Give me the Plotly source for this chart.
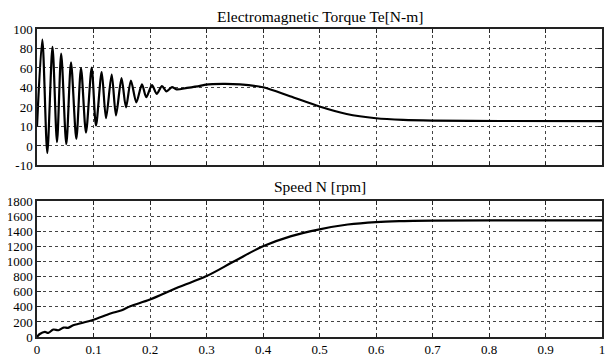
import plotly.graph_objects as go

# Electromagnetic torque (values in the plot's linear axis units; tick labels as printed)
torque_t = [0, 0.0094, 0.0182, 0.0274, 0.0354, 0.0428, 0.0519, 0.0602, 0.0696, 0.0779,
            0.0867, 0.0968, 0.1044, 0.1145, 0.1221, 0.1322, 0.1398, 0.1496, 0.1575, 0.1662,
            0.1758, 0.1858, 0.1934, 0.2035, 0.2119, 0.2212, 0.2292, 0.2389, 0.2469, 0.2655,
            0.2885, 0.2991, 0.3292, 0.3593, 0.4, 0.4478, 0.5, 0.548, 0.6, 0.648,
            0.7, 0.82, 1.0]
torque_v = [0, 89.1, -27.2, 81.6, -16.1, 74.8, -18.2, 65.8, -12.7, 59.9,
            -6.3, 60.3, 1.0, 55.9, 8.4, 53.3, 11.3, 49.5, 19.6, 47.1,
            24.8, 43.3, 30.0, 42.4, 33.4, 41.4, 36.0, 40.4, 38.1, 39.5,
            41.6, 43.0, 43.7, 43.2, 40.2, 31.0, 20.5, 12.8, 8.4, 6.7,
            6.0, 5.6, 5.5]
torque_tickvals = [-40, -20, 0, 20, 40, 60, 80, 100]
torque_ticktext = ["-10", "0", "10", "20", "40", "60", "80", "100"]

# Speed
speed_t = [0, 0.005, 0.014, 0.020, 0.029, 0.038, 0.047, 0.055, 0.064, 0.076, 0.1, 0.13,
           0.15, 0.165, 0.2, 0.25, 0.3, 0.35, 0.4, 0.45, 0.5, 0.55, 0.6, 0.65,
           0.7, 0.8, 1.0]
speed_v = [0, 40, 67, 55, 99, 90, 125, 122, 156, 179, 230, 312, 356, 409, 498, 660, 809,
           1010, 1205, 1340, 1430, 1494, 1527, 1540, 1546, 1548, 1548]

x_ticks = [0, 0.1, 0.2, 0.3, 0.4, 0.5, 0.6, 0.7, 0.8, 0.9, 1]
x_ticktext = ["0", "0.1", "0.2", "0.3", "0.4", "0.5", "0.6", "0.7", "0.8", "0.9", "1"]

FONT = "Liberation Serif, Times New Roman, serif"
fig = go.Figure()
fig.add_trace(go.Scatter(x=torque_t, y=torque_v, mode="lines", xaxis="x", yaxis="y",
                         line=dict(color="black", width=2.2, shape="spline", smoothing=0.8),
                         showlegend=False))
fig.add_trace(go.Scatter(x=speed_t, y=speed_v, mode="lines", xaxis="x2", yaxis="y2",
                         line=dict(color="black", width=2.2, shape="spline", smoothing=1.0),
                         showlegend=False))

axis_common = dict(showline=True, linecolor="#222", linewidth=1.5, mirror="ticks",
                   ticks="inside", ticklen=4, tickcolor="#222", automargin=False,
                   showgrid=True, gridcolor="#444", gridwidth=1, griddash="dot",
                   zeroline=False, tickfont=dict(family=FONT, size=13, color="black"))

top_dom = [0.557, 1.0]
bot_dom = [0.0, 0.44]

# page body has an 8px margin, so the figure is sized to fit the 614x357 window
fig.update_layout(
    width=606, height=349,
    margin=dict(l=29, r=12, t=21, b=20),
    paper_bgcolor="white", plot_bgcolor="white",
    font=dict(family=FONT, size=13, color="black"),
    xaxis=dict(axis_common, domain=[0, 1], range=[0, 1], tickvals=x_ticks,
               showticklabels=False, anchor="y"),
    yaxis=dict(axis_common, domain=top_dom, range=[-40, 100], tickvals=torque_tickvals,
               ticktext=torque_ticktext, anchor="x"),
    xaxis2=dict(axis_common, domain=[0, 1], range=[0, 1], tickvals=x_ticks,
                ticktext=x_ticktext, anchor="y2"),
    yaxis2=dict(axis_common, domain=bot_dom, range=[0, 1800], dtick=200, anchor="x2"),
    annotations=[
        dict(text="Electromagnetic Torque Te[N-m]", x=0.5, y=top_dom[1], xref="paper",
             yref="paper", yanchor="bottom", yshift=3, showarrow=False, borderpad=0,
             font=dict(family=FONT, size=15.5, color="black")),
        dict(text="Speed N [rpm]", x=0.5, y=bot_dom[1], xref="paper",
             yref="paper", yanchor="bottom", yshift=5, showarrow=False, borderpad=0,
             font=dict(family=FONT, size=15.5, color="black")),
    ],
)

fig.write_html("out.html")
